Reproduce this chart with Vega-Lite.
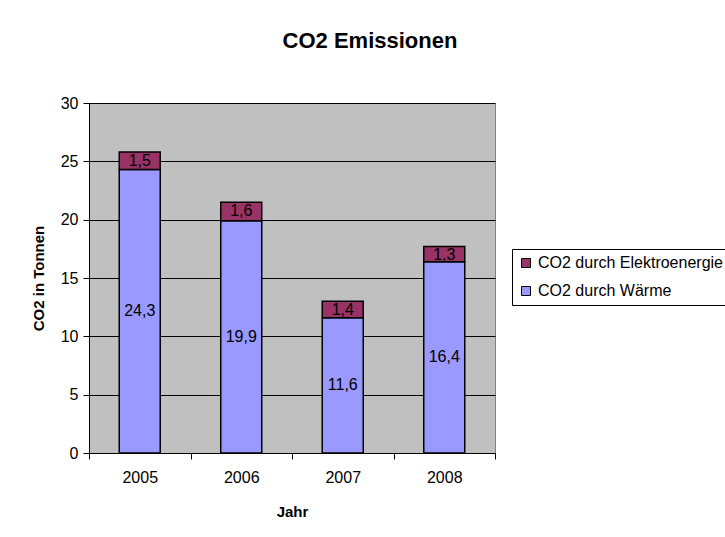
{
  "$schema": "https://vega.github.io/schema/vega-lite/v6.json",
  "width": 406,
  "height": 350,
  "padding": {"left": 31, "top": 30, "right": 0, "bottom": 0},
  "background": "white",
  "title": {
    "text": "CO2 Emissionen",
    "fontSize": 22,
    "fontWeight": "bold",
    "color": "black",
    "anchor": "middle",
    "dx": 78,
    "offset": 42
  },
  "data": {
    "values": [
      {"year": "2005", "series": "CO2 durch Wärme", "value": 24.3},
      {"year": "2005", "series": "CO2 durch Elektroenergie", "value": 1.5},
      {"year": "2006", "series": "CO2 durch Wärme", "value": 19.9},
      {"year": "2006", "series": "CO2 durch Elektroenergie", "value": 1.6},
      {"year": "2007", "series": "CO2 durch Wärme", "value": 11.6},
      {"year": "2007", "series": "CO2 durch Elektroenergie", "value": 1.4},
      {"year": "2008", "series": "CO2 durch Wärme", "value": 16.4},
      {"year": "2008", "series": "CO2 durch Elektroenergie", "value": 1.3}
    ]
  },
  "transform": [
    {"stack": "value", "groupby": ["year"], "sort": [{"field": "series", "order": "descending"}], "as": ["v0", "v1"]}
  ],
  "encoding": {
    "x": {
      "field": "year",
      "type": "ordinal",
      "scale": {"paddingInner": 0, "paddingOuter": 0},
      "axis": {
        "title": "Jahr",
        "labelAngle": 0,
        "tickBand": "extent",
        "grid": false,
        "domainColor": "black",
        "tickColor": "black",
        "tickSize": 6,
        "labelFontSize": 16,
        "labelColor": "black",
        "labelPadding": 10,
        "titleFontSize": 15,
        "titleFontWeight": "bold",
        "titleColor": "black",
        "titlePadding": 19
      }
    }
  },
  "layer": [
    {
      "mark": {"type": "bar", "stroke": "black", "strokeWidth": 1.5, "width": {"band": 0.404}},
      "encoding": {
        "y": {
          "field": "v0",
          "type": "quantitative",
          "scale": {"domain": [0, 30], "nice": false},
          "axis": {
            "title": "CO2 in Tonnen",
            "values": [0, 5, 10, 15, 20, 25, 30],
            "grid": true,
            "gridColor": "black",
            "gridOpacity": 1,
            "gridWidth": 1,
            "domainColor": "black",
            "tickColor": "black",
            "tickSize": 6,
            "labelFontSize": 16,
            "labelColor": "black",
            "labelPadding": 5,
            "titleFontSize": 15,
            "titleFontWeight": "bold",
            "titleColor": "black",
            "titlePadding": 14
          }
        },
        "y2": {"field": "v1"},
        "color": {
          "field": "series",
          "type": "nominal",
          "scale": {
            "domain": ["CO2 durch Elektroenergie", "CO2 durch Wärme"],
            "range": ["#993366", "#9999FF"]
          },
          "legend": {
            "orient": "none",
            "legendX": 423,
            "legendY": 146,
            "title": null,
            "strokeColor": "black",
            "fillColor": "white",
            "padding": 6,
            "cornerRadius": 0,
            "symbolType": "square",
            "symbolSize": 81,
            "symbolStrokeColor": "black",
            "symbolStrokeWidth": 1,
            "symbolOpacity": 1,
            "labelFontSize": 16,
            "labelColor": "black",
            "labelLimit": 400,
            "labelOffset": 4,
            "rowPadding": 12
          }
        }
      }
    },
    {
      "transform": [{"filter": "datum.series === 'CO2 durch Wärme'"}],
      "mark": {"type": "text", "fontSize": 16, "color": "black", "baseline": "middle", "align": "center"},
      "encoding": {
        "y": {"field": "value", "type": "quantitative", "scale": {"domain": [0, 60], "nice": false}, "axis": null},
        "text": {"field": "value", "type": "quantitative", "format": ".1f"}
      }
    },
    {
      "transform": [{"filter": "datum.series === 'CO2 durch Elektroenergie'"}],
      "mark": {"type": "text", "fontSize": 16, "color": "black", "baseline": "middle", "align": "center", "dy": 8.5},
      "encoding": {
        "y": {"field": "v1", "type": "quantitative", "scale": {"domain": [0, 30], "nice": false}, "axis": null},
        "text": {"field": "value", "type": "quantitative", "format": ".1f"}
      }
    }
  ],
  "resolve": {"scale": {"y": "independent"}},
  "config": {
    "font": "Liberation Sans",
    "locale": {
      "number": {"decimal": ",", "thousands": ".", "grouping": [3], "currency": ["", " €"]}
    },
    "view": {"fill": "#C0C0C0", "stroke": "#808080", "strokeWidth": 1}
  }
}
